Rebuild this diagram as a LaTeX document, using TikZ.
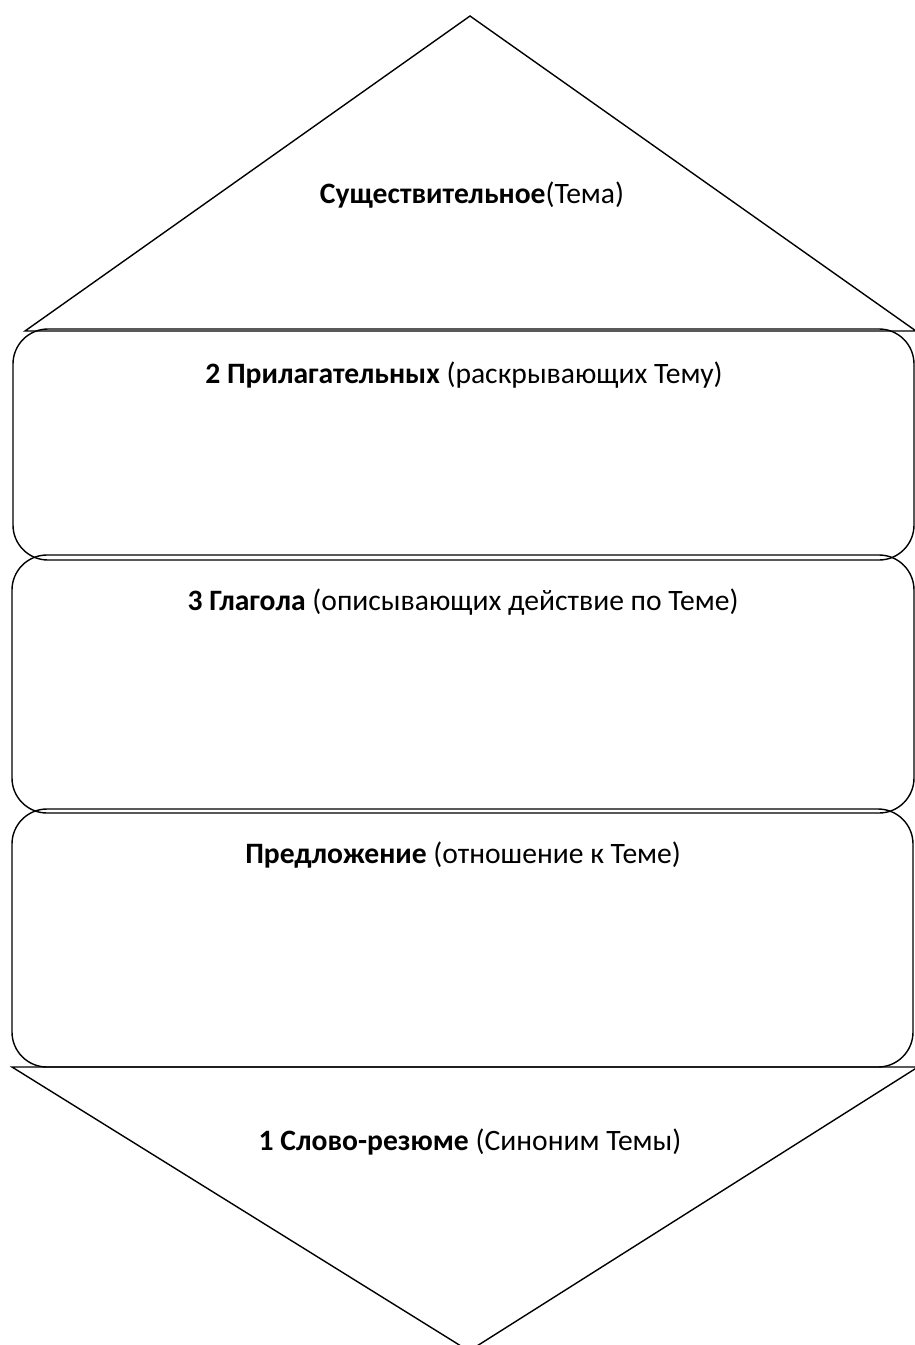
\documentclass[tikz,border=0pt]{standalone}
\usepackage{fontspec}
\setmainfont{Carlito}
\usepackage{tikz}

\begin{document}
\begin{tikzpicture}[x=0.5pt, y=-0.5pt, line width=0.7pt,
    part_box/.style={draw, rounded corners=17.5pt},
    part_label/.style={inner sep=0pt, font=\fontsize{14.8}{18}\selectfont}]

    \useasboundingbox (0, 0) rectangle (915, 1345);
    \begin{scope}
    \clip (0, 0) rectangle (915, 1345);

    % top triangle
    \draw[line join=miter] (25, 331) -- (470, 16) -- (916, 331) -- cycle;
    % three boxes
    \draw[part_box] (13, 329) rectangle (914, 560);
    \draw[part_box] (12, 555) rectangle (914, 813);
    \draw[part_box] (12, 809) rectangle (913, 1067);
    % bottom triangle
    \draw (12, 1067) -- (469, 1351) -- (918, 1067) -- cycle;
    \end{scope}

    \node[part_label] (noun) at (472, 195) {\textbf{Существительное}(Тема)};
    \node[part_label] (adj) at (464, 375) {\textbf{2 Прилагательных} (раскрывающих Тему)};
    \node[part_label] (verb) at (463, 602) {\textbf{3 Глагола} (описывающих действие по Теме)};
    \node[part_label] (phrase) at (463, 855) {\textbf{Предложение} (отношение к Теме)};
    \node[part_label] (resume) at (470, 1142) {\textbf{1 Слово-резюме} (Синоним Темы)};
\end{tikzpicture}
\end{document}
